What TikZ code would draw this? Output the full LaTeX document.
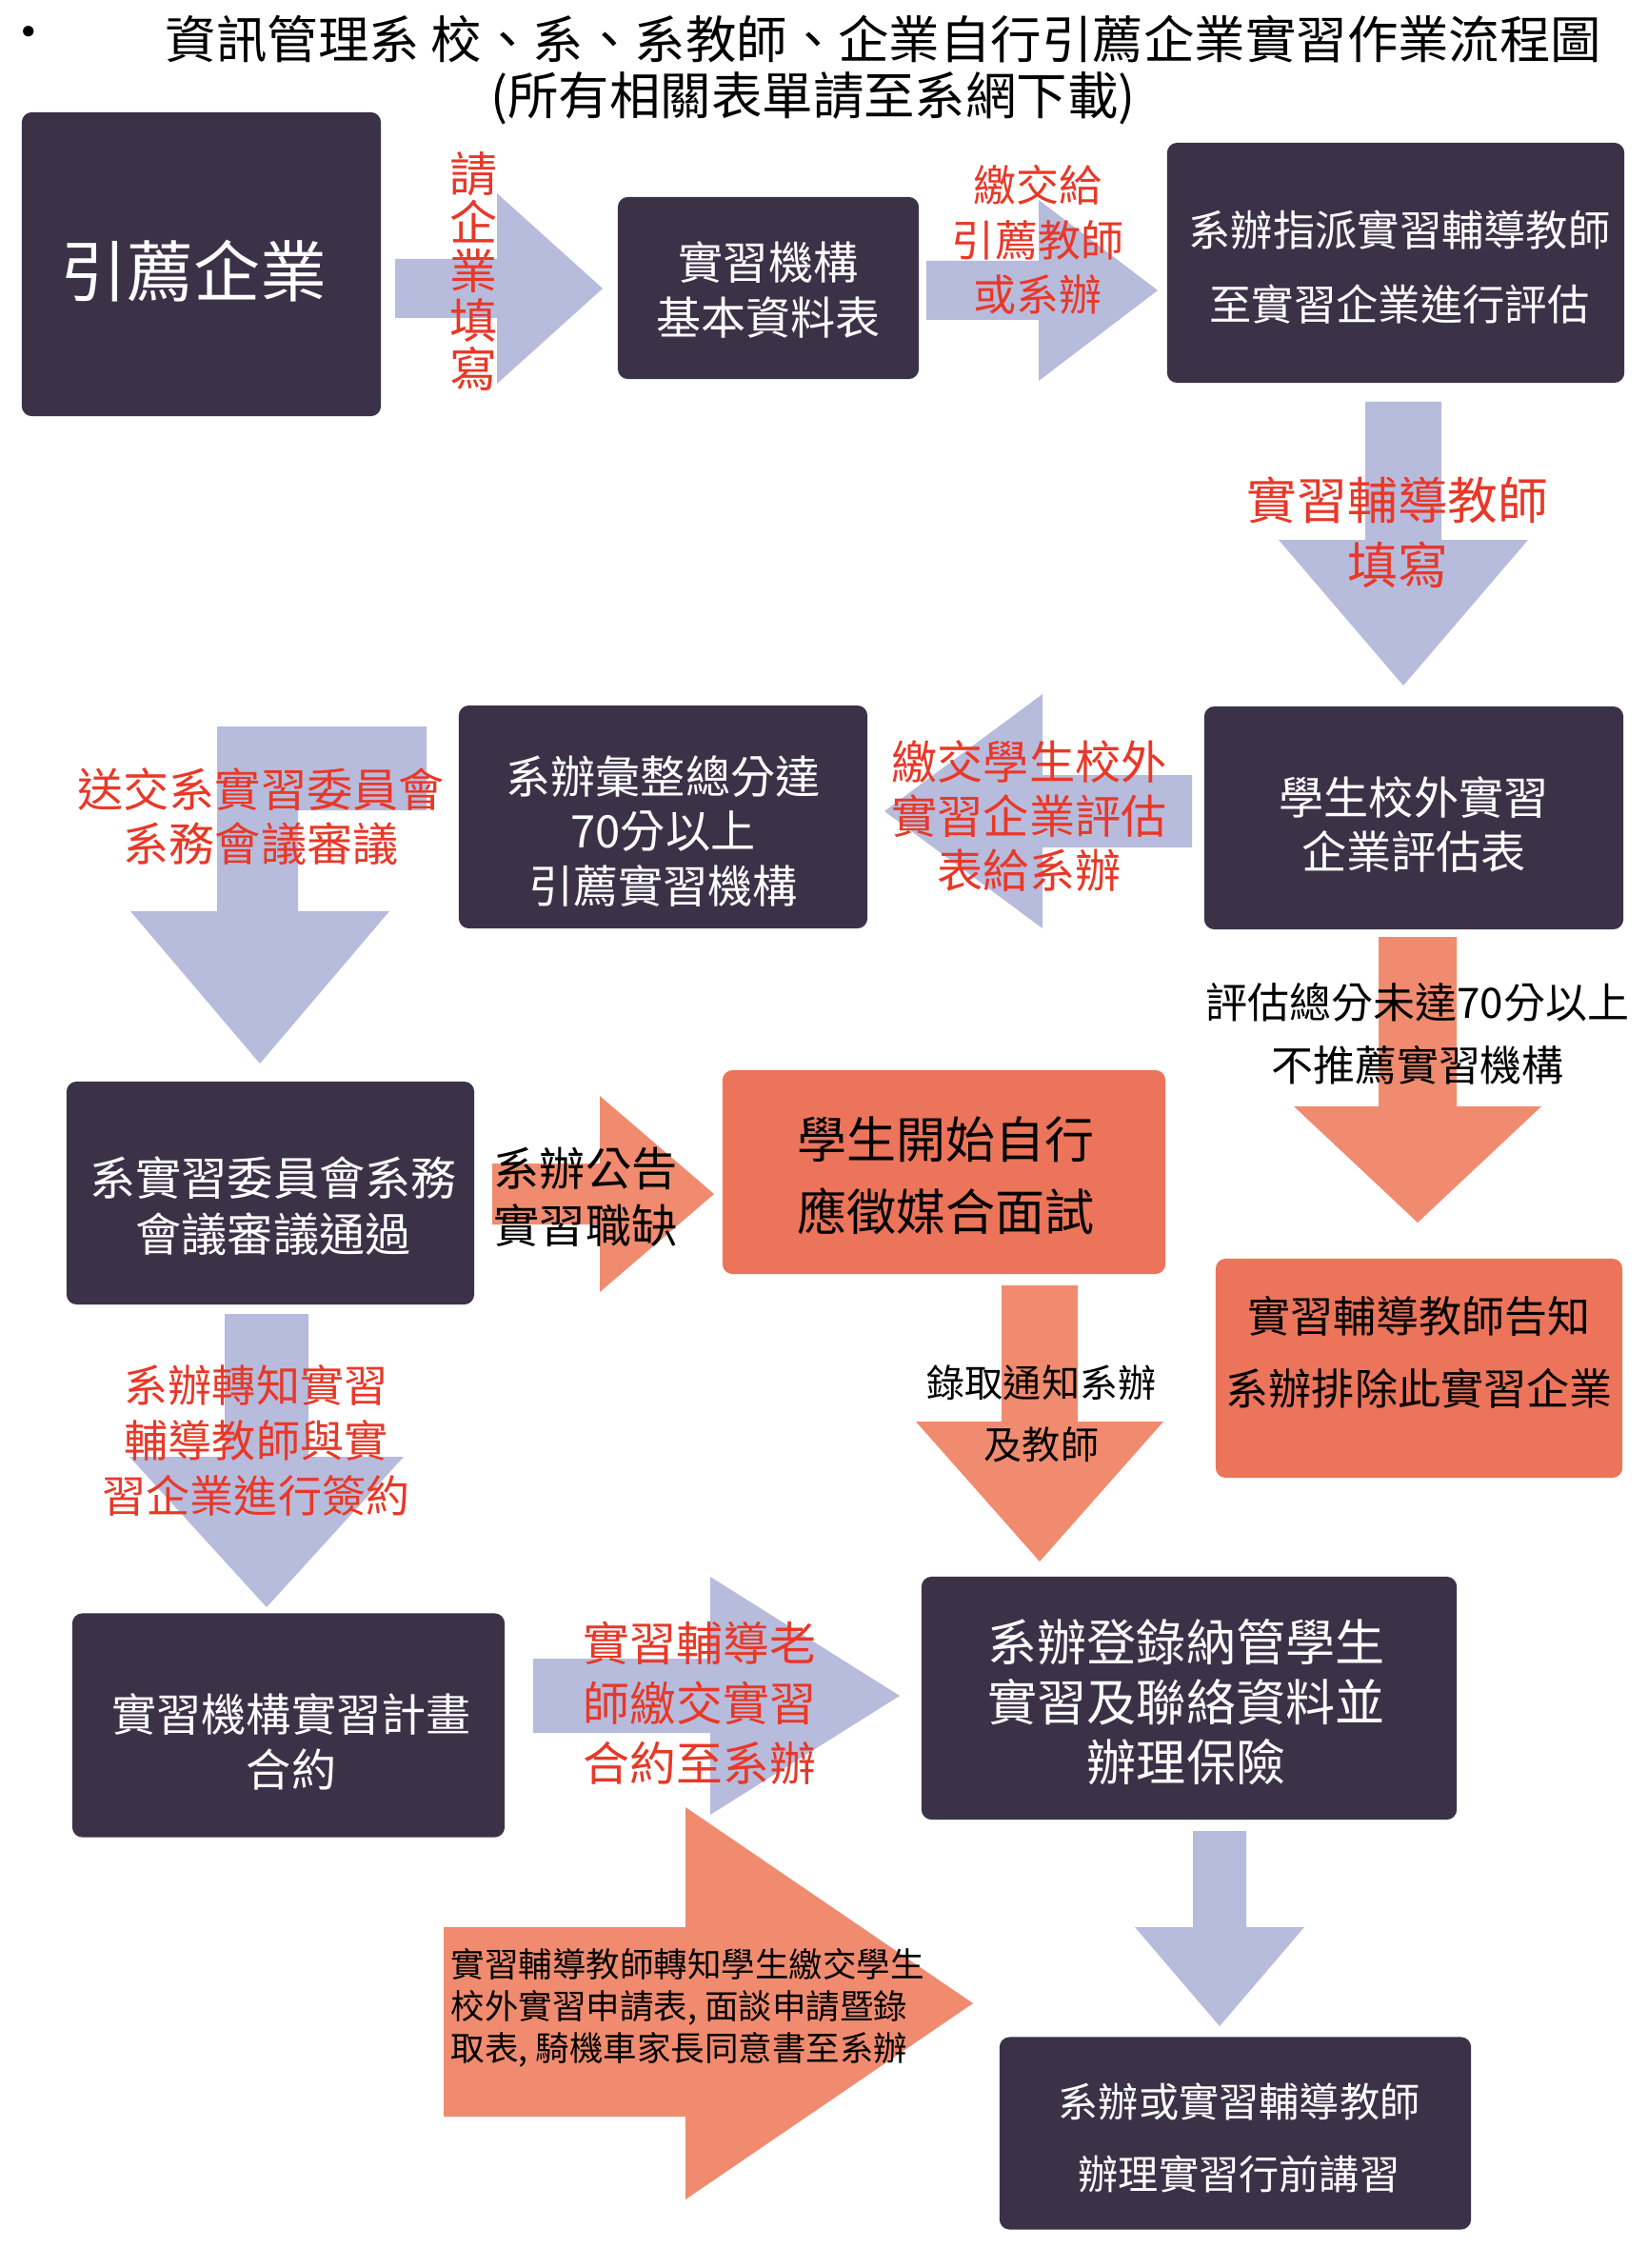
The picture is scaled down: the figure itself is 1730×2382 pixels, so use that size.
\documentclass[tikz,border=0pt]{standalone}
\usepackage{fontspec}
\setmainfont{Noto Sans CJK TC}
\usepackage{tikz}
\usetikzlibrary{calc}
\usepackage{xcolor}
\definecolor{boxdark}{RGB}{59,50,72}
\definecolor{lavender}{RGB}{183,187,220}
\definecolor{salmonbox}{RGB}{236,116,90}
\definecolor{salmonarrow}{RGB}{240,139,111}
\definecolor{redtext}{RGB}{232,56,40}
\newcommand{\txtsize}[2]{\fontsize{#1}{#2}\selectfont}
\tikzset{
	flowbox/.style={rectangle, rounded corners=3pt, fill=boxdark, inner sep=0pt},
	hotbox/.style={flowbox, fill=salmonbox},
	boxtext/.style={text=white, align=center, inner sep=0pt},
	hottext/.style={text=black, align=center, inner sep=0pt},
	redlabel/.style={text=redtext, align=center, inner sep=0pt},
	blacklabel/.style={text=black, align=center, inner sep=0pt},
	lavarrow/.style={fill=lavender},
	salarrow/.style={fill=salmonarrow}
}
% block arrow: style, tail point, angle, shaft length, shaft half width, head length, head half width
\newcommand{\blockArrow}[7]{
	\fill[#1, shift={#2}, rotate=#3] (0,-#5) -- (#4,-#5) -- (#4,-#7) -- (#4+#6,0) -- (#4,#7) -- (#4,#5) -- (0,#5) -- cycle;
}
\begin{document}
\begin{tikzpicture}[x=0.01cm, y=-0.01cm]
	\fill[white] (0,0) rectangle (1730,2382);
	\useasboundingbox (0,0) rectangle (1730,2382);
	% title
	\node[inner sep=0pt, font={\txtsize{15.2pt}{18pt}}] (bullet) at (30,41) {•};
	\node[inner sep=0pt, font={\txtsize{15.2pt}{18pt}}] (title) at (928,41) {資訊管理系 校、系、系教師、企業自行引薦企業實習作業流程圖};
	\node[inner sep=0pt, font={\txtsize{15.2pt}{18pt}}] (subtitle) at (854,103) {(所有相關表單請至系網下載)};

	% block arrows
	\blockArrow{lavarrow}{(415,303)}{0}{107}{31}{111}{100}
	\blockArrow{lavarrow}{(973,305)}{0}{118}{31}{125}{95}
	\blockArrow{lavarrow}{(1474,422)}{-90}{145}{40}{153}{131}
	\blockArrow{lavarrow}{(1252,852)}{180}{157}{38}{166}{123}
	\fill[lavarrow] (448,763) -- (228,763) -- (228,957) -- (137,957) -- (273,1117) -- (409,957) -- (313,957) -- (313,851) -- (448,851) -- cycle;
	\blockArrow{salarrow}{(517,1254)}{0}{113}{32}{120}{103}
	\blockArrow{salarrow}{(1489,984)}{-90}{178}{41}{122}{130}
	\blockArrow{salarrow}{(1092,1350)}{-90}{143}{40}{147}{130}
	\blockArrow{lavarrow}{(280,1380)}{-90}{150}{44}{158}{144}
	\blockArrow{lavarrow}{(560,1781)}{0}{186}{39}{199}{125}
	\blockArrow{lavarrow}{(1281,1923)}{-90}{101}{28}{104}{89}
	\fill[salarrow] (466,2024) -- (720,2024) -- (720,1898) -- (1022,2104) -- (720,2310) -- (720,2223) -- (466,2223) -- cycle;

	% boxes
	\node[flowbox, minimum width=3.77cm, minimum height=3.19cm] (recommend) at (211.5,277.5) {};
	\node[flowbox, minimum width=3.16cm, minimum height=1.91cm] (basicform) at (807,302.5) {};
	\node[flowbox, minimum width=4.80cm, minimum height=2.52cm] (assign) at (1466,276) {};
	\node[flowbox, minimum width=4.40cm, minimum height=2.34cm] (evalform) at (1485,859) {};
	\node[flowbox, minimum width=4.29cm, minimum height=2.34cm] (summary) at (696.5,858) {};
	\node[flowbox, minimum width=4.28cm, minimum height=2.34cm] (committee) at (284,1253) {};
	\node[hotbox, minimum width=4.65cm, minimum height=2.14cm] (interview) at (991.5,1231) {};
	\node[hotbox, minimum width=4.27cm, minimum height=2.30cm] (exclude) at (1490.5,1437) {};
	\node[flowbox, minimum width=4.54cm, minimum height=2.35cm] (contract) at (303,1812) {};
	\node[flowbox, minimum width=5.62cm, minimum height=2.55cm] (register) at (1249,1783.5) {};
	\node[flowbox, minimum width=4.95cm, minimum height=2.02cm] (briefing) at (1297.5,2240.5) {};

	% box texts
	\node[boxtext, font={\txtsize{19.9pt}{24pt}}] (recommendtxt) at ($(recommend.center)+(-8,7)$) {引薦企業};
	\node[boxtext, font={\txtsize{13.4pt}{16.5pt}}] (basicformtxt) at ($(basicform.center)+(0,2)$) {實習機構\\基本資料表};
	\node[boxtext, font={\txtsize{12.6pt}{22.2pt}}] (assigntxt) at ($(assign.center)+(4,5)$) {系辦指派實習輔導教師\\至實習企業進行評估};
	\node[boxtext, font={\txtsize{13.4pt}{16.2pt}}] (evalformtxt) at ($(evalform.center)+(0,7)$) {學生校外實習\\企業評估表};
	\node[boxtext, font={\txtsize{13.4pt}{16.4pt}}] (summarytxt) at ($(summary.center)+(0,15)$) {系辦彙整總分達\\70分以上\\引薦實習機構};
	\node[boxtext, font={\txtsize{13.7pt}{16.8pt}}] (committeetxt) at ($(committee.center)+(3,14)$) {系實習委員會系務\\會議審議通過};
	\node[hottext, font={\txtsize{14.8pt}{21.6pt}}] (interviewtxt) at ($(interview.center)+(2,4)$) {學生開始自行\\應徵媒合面試};
	\node[hottext, font={\txtsize{12.8pt}{21.6pt}}] (excludetxt) at ($(exclude.center)+(0,-17)$) {實習輔導教師告知\\系辦排除此實習企業};
	\node[boxtext, font={\txtsize{13.4pt}{16.5pt}}] (contracttxt) at ($(contract.center)+(3,17)$) {實習機構實習計畫\\合約};
	\node[boxtext, font={\txtsize{14.8pt}{17.9pt}}] (registertxt) at ($(register.center)+(-3,4)$) {系辦登錄納管學生\\實習及聯絡資料並\\辦理保險};
	\node[boxtext, font={\txtsize{12pt}{21.6pt}}] (briefingtxt) at ($(briefing.center)+(4,5)$) {系辦或實習輔導教師\\辦理實習行前講習};

	% arrow labels
	\node[redlabel, font={\txtsize{14.2pt}{14.6pt}}] (fillask) at (497,285) {請\\企\\業\\填\\寫};
	\node[redlabel, font={\txtsize{12.8pt}{16.3pt}}] (handin) at (1090,252) {繳交給\\引薦教師\\或系辦};
	\node[redlabel, font={\txtsize{15pt}{19.3pt}}] (tutorfill) at (1468,559) {實習輔導教師\\填寫};
	\node[redlabel, font={\txtsize{13.7pt}{16.1pt}}] (evalhand) at (1081,857) {繳交學生校外\\實習企業評估\\表給系辦};
	\node[redlabel, font={\txtsize{13.7pt}{16.2pt}}] (sendreview) at (274,858) {送交系實習委員會\\系務會議審議};
	\node[blacklabel, align=left, anchor=west, font={\txtsize{13.7pt}{17pt}}] (announce) at (518,1257) {系辦公告\\實習職缺};
	\node[blacklabel, font={\txtsize{12.5pt}{18.8pt}}] (notreach) at (1489,1086) {評估總分未達70分以上\\不推薦實習機構};
	\node[blacklabel, font={\txtsize{11.4pt}{18.5pt}}] (admit) at (1094,1485) {錄取通知系辦\\及教師};
	\node[redlabel, font={\txtsize{13.1pt}{16.4pt}}] (signing) at (269,1513) {系辦轉知實習\\輔導教師與實\\習企業進行簽約};
	\node[redlabel, font={\txtsize{13.9pt}{17.9pt}}] (contracthand) at (735,1789) {實習輔導老\\師繳交實習\\合約至系辦};
	\node[blacklabel, align=left, anchor=west, font={\txtsize{10.1pt}{12.5pt}}] (forms) at (473,2109) {實習輔導教師轉知學生繳交學生\\校外實習申請表, 面談申請暨錄\\取表, 騎機車家長同意書至系辦};
\end{tikzpicture}
\end{document}
